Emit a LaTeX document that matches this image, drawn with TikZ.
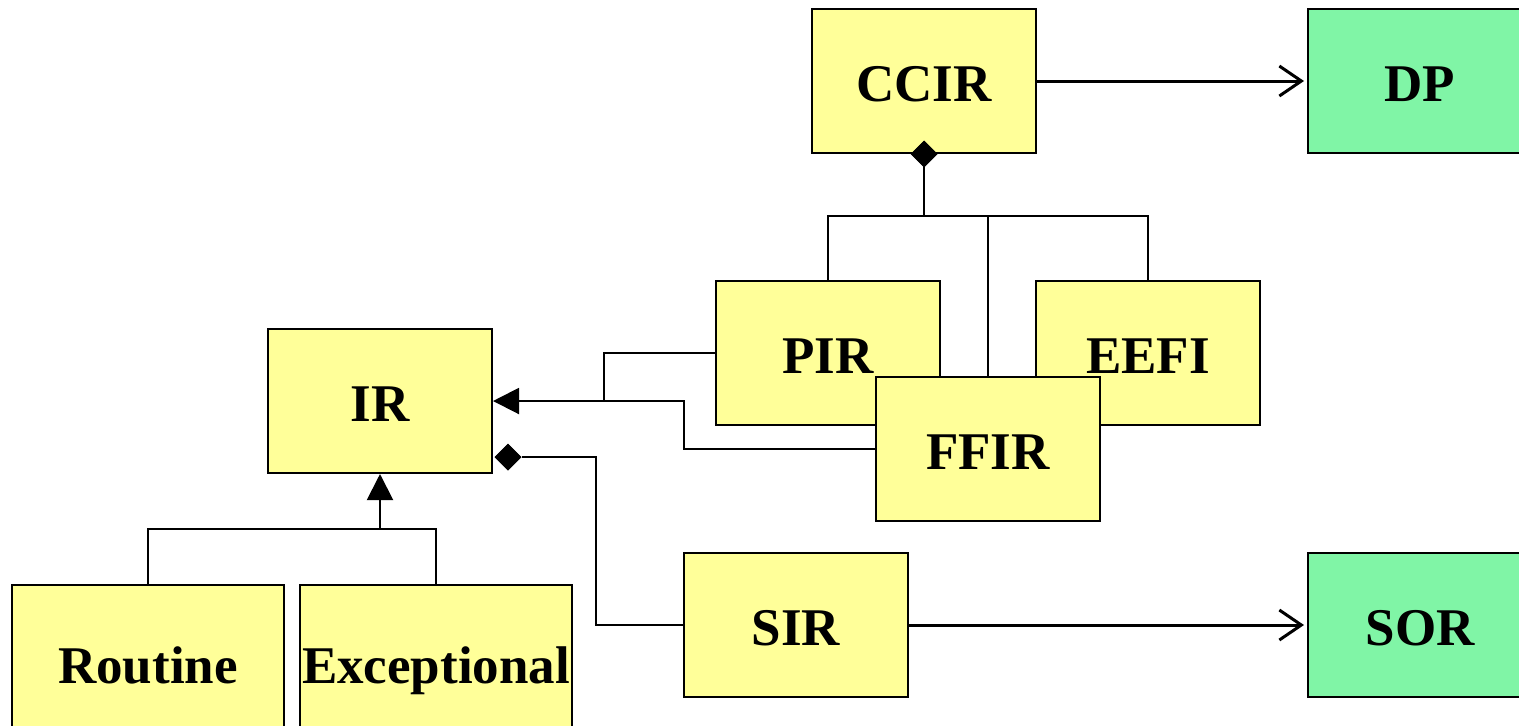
\documentclass[tikz,border=0pt]{standalone}
\usepackage{fontspec}
\setmainfont{Liberation Serif}
\usetikzlibrary{arrows.meta,shapes.geometric}
\definecolor{boxyellow}{RGB}{255,255,153}
\definecolor{boxgreen}{RGB}{128,245,166}
\tikzset{
  box/.style={draw=black, line width=1pt, fill=boxyellow, minimum width=112pt, minimum height=72pt, inner sep=0pt,
    font=\fontsize{26.5}{30}\selectfont\bfseries, text height=20.5pt, text depth=0pt},
  gbox/.style={box, fill=boxgreen},
  wbox/.style={box, minimum width=136pt, minimum height=78pt},
  link/.style={line width=1pt},
  gen/.style={line width=1pt, -{Triangle[length=13pt,width=13pt]}},
  flow/.style={line width=1.5pt, -{Straight Barb[length=11pt,width=15pt,line width=1.5pt]}, shorten >=1.5pt},
  diam/.style={diamond, fill=black, draw=black, line width=0.5pt, minimum width=13pt, minimum height=13pt, inner sep=0pt, aspect=1}
}
\begin{document}
\begin{tikzpicture}[x=0.5pt,y=-0.5pt]
\clip (0,0) rectangle (1519,725);
\useasboundingbox (0,0) rectangle (1519,725);
\node[box] (CCIR) at (924,81) {CCIR};
\node[gbox] (DP) at (1420,81) {DP};
\node[box] (PIR) at (828,353) {PIR};
\node[box] (EEFI) at (1148,353) {EEFI};
\node[box] (IR) at (380,401) {IR};
\node[box] (SIR) at (796,625) {SIR};
\node[gbox] (SOR) at (1420,625) {SOR};
\node[wbox] (Routine) at (148,663) {Routine};
\node[wbox] (Exc) at (436,663) {Exceptional};
% composition of CCIR
\coordinate (cj) at (924,216);
\draw[link] (CCIR.south) -- (cj);
\draw[link] (PIR.north) |- (cj) -| (EEFI.north);
\coordinate (fj) at (988,216);
\coordinate (fb) at (988,377);
\draw[link] (fj) -- (fb);
% generalizations to IR
\coordinate (j1) at (604,401);
\coordinate (j2) at (684,401);
\draw[link] (PIR.west) -| (j1);
% FFIR box on top
\node[box] (FFIR) at (988,449) {FFIR};
\draw[gen] (FFIR.west) -| (j2) -- (IR.east);
\coordinate (jr) at (380,529);
\draw[gen] (Routine.north) |- (jr) -- (IR.south);
\draw[link] (Exc.north) |- (jr);
% composition IR - SIR
\node[diam] (d2) at (508,457) {};
\coordinate (sj) at (596,457);
\draw[link] (d2.east) -- (sj) |- (SIR.west);
\node[diam] (d1) at (CCIR.south) {};
% flows
\draw[flow] (CCIR.east) -- (DP.west);
\draw[flow] (SIR.east) -- (SOR.west);
\end{tikzpicture}
\end{document}
